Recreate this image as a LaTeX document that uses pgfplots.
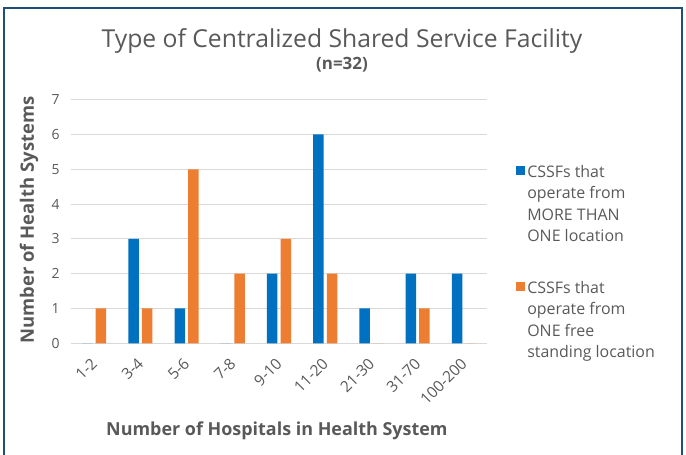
\documentclass[border=0pt]{standalone}
\usepackage{pgfplots}
\pgfplotsset{compat=1.18}
\usepackage{fontspec}
\setmainfont{Open Sans}
\definecolor{txt}{HTML}{595959}
\definecolor{cblue}{HTML}{0070C0}
\definecolor{corange}{HTML}{ED7D31}
\definecolor{framec}{HTML}{1F4E79}
\definecolor{gridc}{HTML}{D9D9D9}
\begin{document}
\begin{tikzpicture}[x=1bp,y=1bp]
\path[use as bounding box] (0,0) rectangle (686,455);
\draw[framec, line width=2.5bp] (4,-10) -- (4,447) -- (682,447) -- (682,-10);
\node[txt, font=\fontsize{24.8}{28}\selectfont, anchor=base, inner sep=0pt] at (342,407) {Type of Centralized Shared Service Facility};
\node[txt, font=\bfseries\fontsize{17}{20}\selectfont, anchor=base, inner sep=0pt] at (342,385) {(n=32)};
\begin{axis}[
  at={(71bp,111.7bp)}, anchor=south west,
  scale only axis, width=416bp, height=243.6bp,
  xmin=-0.5, xmax=8.5, ymin=0, ymax=7,
  axis line style={draw=none},
  ymajorgrids, grid style={gridc, line width=1bp},
  ytick={0,...,7},
  xtick={0,...,8},
  xticklabels={1-2,3-4,5-6,7-8,9-10,11-20,21-30,31-70,100-200},
  major tick length=0pt,
  tick label style={txt, font=\fontsize{14}{16}\selectfont},
  /pgf/number format/assume math mode=true,
  xticklabel style={xshift=-4bp, rotate=45, anchor=north east, inner sep=1pt, font=\fontsize{15.5}{17}\selectfont},
  xticklabel shift=12bp,
  yticklabel style={xshift=-8bp},
  xlabel={Number of Hospitals in Health System},
  ylabel={Number of Health Systems},
  xlabel style={at={(axis description cs:0.495,-0.36)}, anchor=center, txt, font=\bfseries\fontsize{18}{20}\selectfont},
  ylabel style={at={(axis description cs:-0.101,0.506)}, anchor=center, rotate=0, txt, font=\bfseries\fontsize{18.5}{20}\selectfont},
  legend style={at={(axis description cs:1.07,0.739)}, anchor=north west, draw=none, fill=none,
    cells={anchor=west, align=left}, font=\fontsize{16}{21.5}\selectfont, text=txt, row sep=34bp, inner sep=0pt},
  legend image code/.code={\path[#1, draw=none] (0bp,29bp) rectangle (9bp,38bp);},
]
\addplot[ybar, bar width=10.5bp, bar shift=-6.8bp, fill=cblue, draw=none]
  coordinates {(0,0) (1,3) (2,1) (3,0) (4,2) (5,6) (6,1) (7,2) (8,2)};
\addlegendentry{CSSFs that\\operate from\\MORE THAN\\ONE location}
\addplot[ybar, bar width=10.5bp, bar shift=6.8bp, fill=corange, draw=none]
  coordinates {(0,1) (1,1) (2,5) (3,2) (4,3) (5,2) (6,0) (7,1) (8,0)};
\addlegendentry{CSSFs that\\operate from\\ONE free\\standing location}
\end{axis}
\end{tikzpicture}
\end{document}
